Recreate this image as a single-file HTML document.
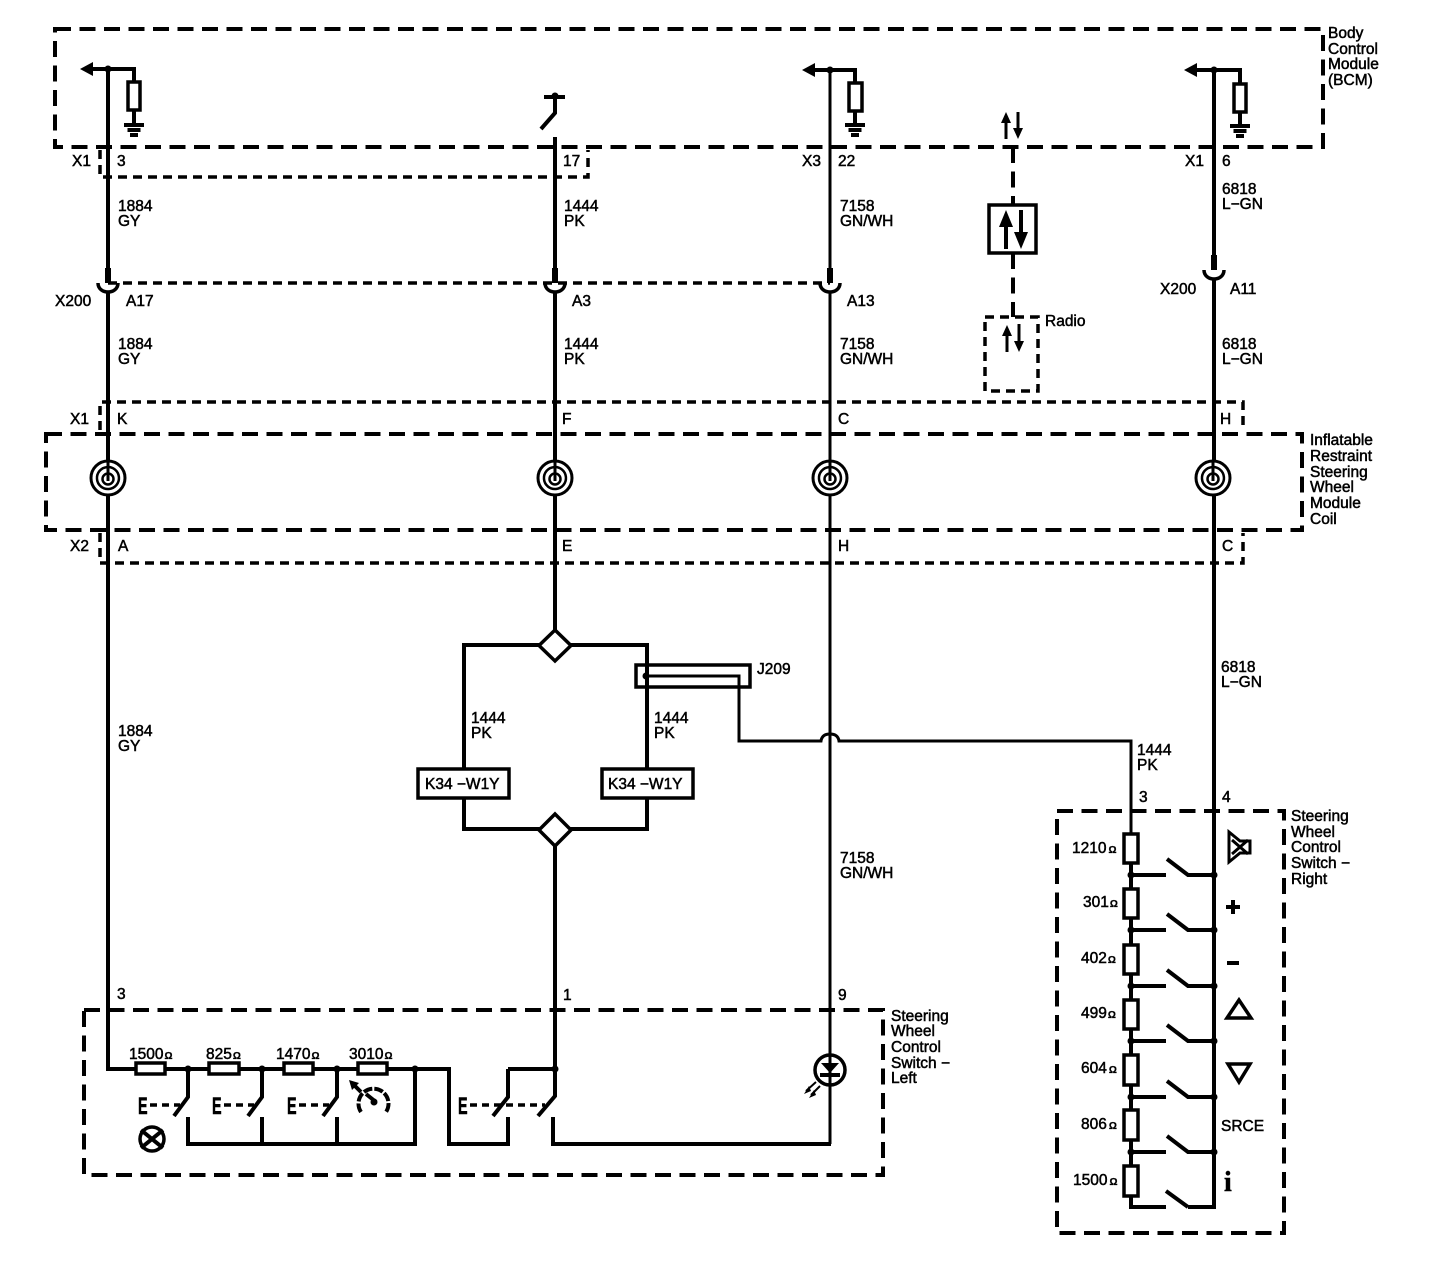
<!DOCTYPE html>
<html><head><meta charset="utf-8"><style>
html,body{margin:0;padding:0;background:#fff}
svg{display:block}
text{font-family:"Liberation Sans",sans-serif;font-size:15.5px;fill:#000;stroke:#000;stroke-width:.5}
.w{fill:none;stroke:#000;stroke-width:4}
.t{fill:none;stroke:#000;stroke-width:3}
.d{fill:none;stroke:#000;stroke-width:4;stroke-dasharray:16 8.5}
.s{fill:none;stroke:#000;stroke-width:3.5;stroke-dasharray:9 6}
.h{fill:none;stroke:#000;stroke-width:3.5;stroke-dasharray:7 5}
.r{fill:#fff;stroke:#000;stroke-width:3.5}
.o{font-size:10px;font-weight:bold;stroke-width:.3}
.e{font-size:24px;font-weight:bold}
</style></head><body>
<svg width="1452" height="1280" viewBox="0 0 1452 1280" xmlns="http://www.w3.org/2000/svg">
<rect width="1452" height="1280" fill="#fff"/>
<defs>
<g id="gnd"><path d="M0 0V14M-10 14H10M-6.500 19H6.500M-4 24H4" class="w"/></g>
<g id="spiral">
<circle r="17" fill="#fff" stroke="#000" stroke-width="3"/>
<path d="M-11 1A11 11 0 1 1 1 11A11 11 0 0 1 -11 1Z" fill="none" stroke="#000" stroke-width="2.500"/>
<circle cy="1" r="5.500" fill="none" stroke="#000" stroke-width="2.500"/>
<path d="M0 -18V3" class="t"/>
</g>
<g id="cup"><rect x="-3" y="-15" width="6" height="15"/><path d="M-10 0C-10 12 10 12 10 0" fill="none" stroke="#000" stroke-width="3.500"/></g>
<path id="sw" d="M0 0V28L-14 47" class="w"/>
<path id="rsw" d="M0 0H35M83 0H57L36 -16" class="w"/>
<circle id="dot" r="3.500"/>
</defs>

<!-- dashed module boxes -->
<rect x="55" y="29" width="1268" height="118" class="d"/>
<path d="M100 150V177H588V150" class="s"/>
<path d="M108 283H830" class="s" stroke-width="3"/>
<path d="M100 430V402H1243V430" class="s"/>
<rect x="46" y="434" width="1256" height="96" class="d"/>
<path d="M100 533V563H1243V533" class="s"/>
<rect x="84" y="1010" width="799" height="165" class="d"/>
<rect x="1057" y="811" width="227" height="422" class="d"/>
<path d="M1013 147V205M1013 253V317" class="d"/>
<rect x="985" y="317" width="53" height="74" class="s" stroke-width="4"/>

<!-- main wires -->
<path d="M108 69V268M108 292V460M108 495V1069H136" class="w"/>
<path d="M555 137V268M555 292V460M555 495V632" class="w"/>
<path d="M830 69V268M830 292V460M830 495V1144" class="t"/>
<path d="M831 1144H553V1117" class="w"/>
<path d="M1214 69V255M1214 278V460M1214 495V1207H1188" class="w"/>

<!-- top arrows + pull resistors -->
<g>
<path d="M92 69H134V83" class="w"/><path d="M80 69L93 62V76Z"/>
<rect x="128" y="82" width="12" height="28" class="r"/><use href="#gnd" x="134" y="111"/>
<circle cx="108" cy="69" r="3.500"/>
<path d="M814 70H855V83" class="w"/><path d="M802 70L815 63V77Z"/>
<rect x="849" y="83" width="13" height="28" class="r"/><use href="#gnd" x="855" y="111"/>
<circle cx="830" cy="70" r="3.500"/>
<path d="M1196 70H1240V84" class="w"/><path d="M1184 70L1197 63V77Z"/>
<rect x="1234" y="84" width="12" height="28" class="r"/><use href="#gnd" x="1240" y="112"/>
<circle cx="1214" cy="70" r="3.500"/>
</g>
<path d="M544 97H565M555 97V113L541 129" class="w"/><circle cx="555" cy="96" r="3.500"/>

<!-- data arrows -->
<path d="M1006 139V120M1018 112V132" class="t"/><path d="M1006 112L1001 123H1011ZM1018 139L1013 128H1023Z"/>
<rect x="989" y="205" width="47" height="48" class="r"/>
<path d="M1006 249V226M1021 210V233" class="w"/><path d="M1006 210L999 227H1013ZM1021 249L1014 232H1028Z"/>
<path d="M1007 352V332M1019 324V344" class="t"/><path d="M1007 325L1002 336H1012ZM1019 352L1014 341H1024Z"/>

<!-- connectors -->
<use href="#cup" x="108" y="283"/><use href="#cup" x="555" y="283"/><use href="#cup" x="830" y="283"/><use href="#cup" x="1214" y="270"/>

<!-- spirals -->
<use href="#spiral" x="108" y="478"/><use href="#spiral" x="555" y="478"/><use href="#spiral" x="830" y="478"/><use href="#spiral" x="1213" y="478"/>

<!-- splice section -->
<path d="M464 770V645H647V770M464 798V829H647V798M555 846V1096L538 1116" class="w"/>
<path d="M555 630L571 645.500L555 661L539 645.500Z" class="r"/>
<path d="M555 814L571 830L555 846L539 830Z" class="r"/>
<rect x="636" y="665" width="114" height="22" class="r" style="fill:none"/>
<path d="M647 676H739V741H821Q822 734 830 734Q838 734 839 741H1131V833" class="t"/>
<circle cx="646" cy="676" r="3.500"/>
<rect x="418" y="769" width="91" height="29" class="r"/>
<rect x="602" y="769" width="91" height="29" class="r"/>

<!-- left switch -->
<path d="M165 1069H209M239 1069H284M313 1069H358M387 1069H449V1144H508V1117M508 1069V1097L493 1116M508 1069H555" class="w"/>
<rect x="136" y="1063" width="29" height="11" class="r"/><rect x="209" y="1063" width="30" height="11" class="r"/>
<rect x="284" y="1063" width="29" height="11" class="r"/><rect x="358" y="1063" width="29" height="11" class="r"/>
<use href="#sw" x="188" y="1069"/><use href="#sw" x="262" y="1069"/><use href="#sw" x="337" y="1069"/>
<path d="M188 1117V1144H415V1069M262 1117V1144M337 1117V1144" class="w"/>
<g fill="#000"><circle cx="188" cy="1069" r="3.500"/><circle cx="262" cy="1069" r="3.500"/><circle cx="337" cy="1069" r="3.500"/><circle cx="415" cy="1069" r="3.500"/><circle cx="555" cy="1069" r="3.500"/></g>
<path d="M150 1105H180M224 1105H254M299 1105H329M470 1105H545" class="h"/>
<!-- lamp -->
<circle cx="152" cy="1139" r="12" fill="none" stroke="#000" stroke-width="3.500"/>
<path d="M141 1130L163 1148M163 1130L141 1148" class="w"/>
<!-- gauge -->
<path d="M361 1112A15 15 0 1 1 386 1112" fill="none" stroke="#000" stroke-width="4" stroke-dasharray="9 2"/>
<path d="M352 1083L361 1092" class="w"/><path d="M349 1080L359 1083L352 1090Z"/>
<path d="M366 1094L376 1102" class="w"/><circle cx="374" cy="1102" r="3.500"/>
<!-- LED -->
<circle cx="830" cy="1070" r="15" fill="#fff" stroke="#000" stroke-width="3.500"/>
<path d="M830 1055V1085" class="t"/><path d="M821 1063H839L830 1073Z"/><path d="M820 1075H840" class="w"/>
<path d="M816 1082L806 1091M820 1086L811 1095" stroke="#000" stroke-width="2" fill="none"/><path d="M804 1094L809 1086L811 1091ZM809 1098L814 1090L816 1095Z"/>

<!-- right switch -->
<path d="M1131 860V1207H1166" class="w"/>
<g class="r"><rect x="1124" y="834" width="14" height="29" class="r"/><rect x="1124" y="889" width="14" height="29" class="r"/><rect x="1124" y="945" width="14" height="29" class="r"/><rect x="1124" y="1000" width="14" height="29" class="r"/><rect x="1124" y="1055" width="14" height="30" class="r"/><rect x="1124" y="1110" width="14" height="30" class="r"/><rect x="1124" y="1166" width="14" height="30" class="r"/></g>
<use href="#rsw" x="1131" y="875"/><use href="#rsw" x="1131" y="930"/><use href="#rsw" x="1131" y="986"/><use href="#rsw" x="1131" y="1041"/><use href="#rsw" x="1131" y="1097"/><use href="#rsw" x="1131" y="1152"/>
<path d="M1188 1207L1166 1191" class="w"/>
<g><use href="#dot" x="1131" y="875"/><use href="#dot" x="1214" y="875"/><use href="#dot" x="1131" y="930"/><use href="#dot" x="1214" y="930"/><use href="#dot" x="1131" y="986"/><use href="#dot" x="1214" y="986"/><use href="#dot" x="1131" y="1041"/><use href="#dot" x="1214" y="1041"/><use href="#dot" x="1131" y="1097"/><use href="#dot" x="1214" y="1097"/><use href="#dot" x="1131" y="1152"/><use href="#dot" x="1214" y="1152"/></g>
<!-- right icons -->
<path d="M1229 832L1240 841H1250V853H1240L1229 862Z" fill="none" stroke="#000" stroke-width="3"/><path d="M1232 840L1248 854M1248 840L1232 854" class="t"/>
<path d="M1233 900V914M1226 907H1240M1227 963H1239" class="w"/>
<path d="M1239 1000L1227 1018H1251Z" fill="none" stroke="#000" stroke-width="3.500"/>
<path d="M1228 1064H1250L1239 1082Z" fill="none" stroke="#000" stroke-width="3.500"/>

<!-- labels -->
<text x="1328" y="38">Body</text><text x="1328" y="54">Control</text><text x="1328" y="69">Module</text><text x="1328" y="85">(BCM)</text>
<text x="72" y="166">X1</text><text x="117" y="166">3</text><text x="563" y="166">17</text><text x="802" y="166">X3</text><text x="838" y="166">22</text><text x="1185" y="166">X1</text><text x="1222" y="166">6</text>
<text x="118" y="211">1884</text><text x="118" y="226">GY</text><text x="564" y="211">1444</text><text x="564" y="226">PK</text><text x="840" y="211">7158</text><text x="840" y="226">GN/WH</text>
<text x="1222" y="194">6818</text><text x="1222" y="209">L−GN</text>
<text x="55" y="306">X200</text><text x="126" y="306">A17</text><text x="572" y="306">A3</text><text x="847" y="306">A13</text><text x="1160" y="294">X200</text><text x="1230" y="294">A11</text>
<text x="118" y="349">1884</text><text x="118" y="364">GY</text><text x="564" y="349">1444</text><text x="564" y="364">PK</text><text x="840" y="349">7158</text><text x="840" y="364">GN/WH</text><text x="1222" y="349">6818</text><text x="1222" y="364">L−GN</text>
<text x="1045" y="326">Radio</text>
<text x="70" y="424">X1</text><text x="117" y="424">K</text><text x="562" y="424">F</text><text x="838" y="424">C</text><text x="1220" y="424">H</text>
<text x="1310" y="445">Inflatable</text><text x="1310" y="461">Restraint</text><text x="1310" y="477">Steering</text><text x="1310" y="492">Wheel</text><text x="1310" y="508">Module</text><text x="1310" y="524">Coil</text>
<text x="70" y="551">X2</text><text x="118" y="551">A</text><text x="562" y="551">E</text><text x="838" y="551">H</text><text x="1222" y="551">C</text>
<text x="757" y="674">J209</text>
<text x="1221" y="672">6818</text><text x="1221" y="687">L−GN</text>
<text x="471" y="723">1444</text><text x="471" y="738">PK</text><text x="654" y="723">1444</text><text x="654" y="738">PK</text>
<text x="118" y="736">1884</text><text x="118" y="751">GY</text>
<text x="1137" y="755">1444</text><text x="1137" y="770">PK</text>
<text x="425" y="789">K34 −W1Y</text><text x="608" y="789">K34 −W1Y</text>
<text x="1139" y="802">3</text><text x="1222" y="802">4</text>
<text x="840" y="863">7158</text><text x="840" y="878">GN/WH</text>
<text x="117" y="999">3</text><text x="563" y="1000">1</text><text x="838" y="1000">9</text>
<text x="891" y="1021">Steering</text><text x="891" y="1036">Wheel</text><text x="891" y="1052">Control</text><text x="891" y="1068">Switch −</text><text x="891" y="1083">Left</text>
<text x="1291" y="821">Steering</text><text x="1291" y="837">Wheel</text><text x="1291" y="852">Control</text><text x="1291" y="868">Switch −</text><text x="1291" y="884">Right</text>
<text x="129" y="1059">1500<tspan class="o" dx="1">Ω</tspan></text><text x="206" y="1059">825<tspan class="o" dx="1">Ω</tspan></text><text x="276" y="1059">1470<tspan class="o" dx="1">Ω</tspan></text><text x="349" y="1059">3010<tspan class="o" dx="1">Ω</tspan></text>
<text x="1072" y="853">1210<tspan class="o" dx="2">Ω</tspan></text><text x="1083" y="907">301<tspan class="o" dx="1">Ω</tspan></text><text x="1081" y="963">402<tspan class="o" dx="1">Ω</tspan></text><text x="1081" y="1018">499<tspan class="o" dx="1">Ω</tspan></text><text x="1081" y="1073">604<tspan class="o" dx="2">Ω</tspan></text><text x="1081" y="1129">806<tspan class="o" dx="2">Ω</tspan></text><text x="1073" y="1185">1500<tspan class="o" dx="2">Ω</tspan></text>
<text x="1221" y="1131">SRCE</text>
<text x="1224" y="1191" style="font-family:'Liberation Serif',serif;font-size:28px;font-weight:bold">i</text>
<text class="e" transform="translate(138 1114) scale(.6 1)">E</text><text class="e" transform="translate(212 1114) scale(.6 1)">E</text><text class="e" transform="translate(287 1114) scale(.6 1)">E</text><text class="e" transform="translate(458 1114) scale(.6 1)">E</text>
</svg>
</body></html>
